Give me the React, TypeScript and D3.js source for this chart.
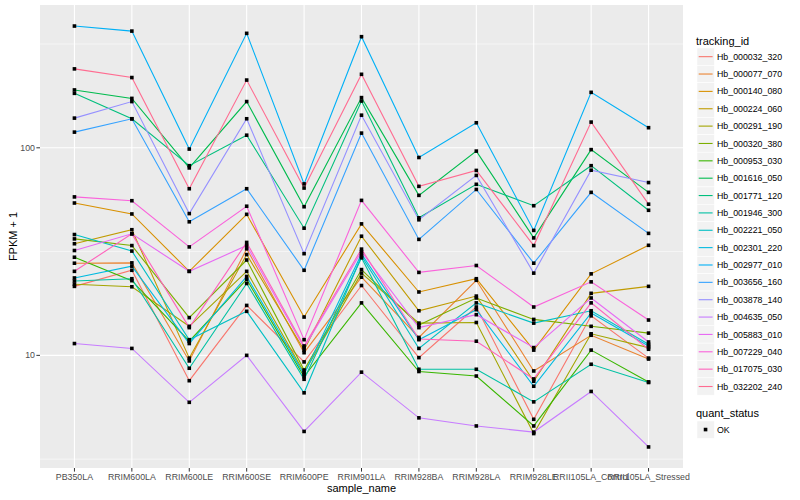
import * as d3 from "d3";

const categories = [
  "PB350LA", "RRIM600LA", "RRIM600LE", "RRIM600SE", "RRIM600PE", "RRIM901LA",
  "RRIM928BA", "RRIM928LA", "RRIM928LE", "RRII105LA_Control", "RRII105LA_Stressed",
];

const trackingIds = [
  "Hb_000032_320", "Hb_000077_070", "Hb_000140_080", "Hb_000224_060", "Hb_000291_190",
  "Hb_000320_380", "Hb_000953_030", "Hb_001616_050", "Hb_001771_120", "Hb_001946_300",
  "Hb_002221_050", "Hb_002301_220", "Hb_002977_010", "Hb_003656_160", "Hb_003878_140",
  "Hb_004635_050", "Hb_005883_010", "Hb_007229_040", "Hb_017075_030", "Hb_032202_240",
];

// ggplot hue_pal()(20)
const hueColors = [
  "#F8766D", "#EA8331", "#D89000", "#C09B00", "#A3A500", "#7CAE00", "#39B600", "#00BB4E",
  "#00BF7D", "#00C1A3", "#00BFC4", "#00BAE0", "#00B0F6", "#35A2FF", "#9590FF", "#C77CFF",
  "#E76BF3", "#FA62DB", "#FF62BC", "#FF6C91",
];

// FPKM + 1, one value per sample
const hb000032 = [21.5, 25.7, 7.55, 17.4, 9.3, 21.7, 9.75, 17.1, 4.92, 15.5, 9.7];
const hb000077 = [27.8, 27.9, 9.4, 32.6, 10.3, 23.8, 12.2, 23.0, 8.41, 12.5, 9.6];
const hb000140 = [54.2, 48, 25.4, 47.8, 15.3, 43, 20.2, 23.4, 10.6, 24.7, 33.9];
const hb000224 = [34.5, 40.3, 9.7, 30.6, 10.6, 37.5, 16.4, 19.3, 7.5, 19.9, 21.5];
const hb000291 = [22, 21.4, 13.8, 25.4, 8.26, 24.9, 14.3, 14.4, 4.2, 12.7, 10.9];
const hb000320 = [36.4, 33.8, 15.2, 28.8, 8.5, 25.9, 14.0, 18.9, 14.9, 13.8, 12.8];
const hb000953 = [29.7, 22.9, 11.7, 23.2, 7.9, 17.9, 8.36, 7.95, 4.57, 10.6, 7.45];
const hb001616 = [190, 173, 80, 167, 52, 174.5, 59, 96.4, 36.8, 98, 61];
const hb001771 = [183, 138, 82, 115, 41, 168, 46, 66.7, 52.6, 82, 50];
const hb001946 = [22.8, 23.4, 8.67, 22.2, 7.67, 29.5, 8.57, 8.57, 5.97, 9.06, 7.4];
const hb002221 = [38.2, 31.8, 11.9, 16.3, 6.6, 30.1, 10.8, 17.9, 14.3, 16.4, 11.3];
const hb002301 = [23.6, 26.9, 11.4, 24, 8.1, 30.8, 11.9, 16.6, 7.1, 16.0, 11.1];
const hb002977 = [386, 365, 98.6, 356, 67, 343, 89.8, 132, 40, 185, 125];
const hb003656 = [119, 138, 44, 63.5, 25.7, 117.7, 36.2, 63, 27.8, 61, 38.7];
const hb003878 = [139, 167, 48.2, 138, 30.9, 143.6, 45, 73.6, 24.9, 78, 68];
const hb004635 = [11.4, 10.8, 5.94, 10, 4.3, 8.3, 5.0, 4.57, 4.27, 6.7, 3.62];
const hb005883 = [32, 38.5, 25.4, 33.8, 10.9, 31.6, 13.6, 15.7, 10.9, 18.9, 11.6];
const hb007229 = [58, 55.6, 33.3, 52.3, 11.9, 55.8, 25.1, 27.1, 17.1, 22.6, 14.8];
const hb017075 = [25.4, 38.5, 13.6, 35, 11.1, 32.5, 12.0, 11.7, 7.7, 17.9, 10.7];
const hb032202 = [240, 218, 63.5, 212, 64, 226, 65.2, 77.8, 33.8, 133, 53.5];

const seriesValues = [
  hb000032, hb000077, hb000140, hb000224, hb000291, hb000320, hb000953, hb001616,
  hb001771, hb001946, hb002221, hb002301, hb002977, hb003656, hb003878, hb004635,
  hb005883, hb007229, hb017075, hb032202,
];

const yBreaks = [10, 100];
const yMinor = [Math.sqrt(10), Math.sqrt(10) * 10, Math.sqrt(10) * 100];

const W = 800;
const H = 500;
const panel = { left: 40, right: 683, top: 5, bottom: 468 };
const font = "'Liberation Sans', Arial, Helvetica, sans-serif";

export default function App() {
  const x = d3.scalePoint<string>().domain(categories).range([panel.left, panel.right]).padding(0.6);

  const all = seriesValues.flat();
  const [lo, hi] = d3.extent(all) as [number, number];
  const lLo = Math.log10(lo);
  const lHi = Math.log10(hi);
  const pad = (lHi - lLo) * 0.05;
  const y = d3
    .scaleLog()
    .domain([Math.pow(10, lLo - pad), Math.pow(10, lHi + pad)])
    .range([panel.bottom, panel.top]);

  const line = d3
    .line<number>()
    .x((_, i) => x(categories[i]) as number)
    .y((d) => y(d));

  const keyStep = 17.36;
  const keyTop = 56.7 - keyStep / 2;

  return (
    <svg
      width={W}
      height={H}
      style={{ position: "absolute", left: 0, top: 0, background: "#fff" }}
      fontFamily={font}
    >
      <rect
        x={panel.left}
        y={panel.top}
        width={panel.right - panel.left}
        height={panel.bottom - panel.top}
        fill="#EBEBEB"
      />
      {yMinor.map((v) => (
        <line key={"mn" + v} x1={panel.left} x2={panel.right} y1={y(v)} y2={y(v)} stroke="#fff" strokeWidth={0.55} />
      ))}
      {yBreaks.map((v) => (
        <line key={"mj" + v} x1={panel.left} x2={panel.right} y1={y(v)} y2={y(v)} stroke="#fff" strokeWidth={1.1} />
      ))}
      {categories.map((c) => (
        <line key={"vg" + c} x1={x(c)} x2={x(c)} y1={panel.top} y2={panel.bottom} stroke="#fff" strokeWidth={1.1} />
      ))}

      {seriesValues.map((vals, i) => (
        <path key={"l" + i} d={line(vals) || ""} fill="none" stroke={hueColors[i]} strokeWidth={1.1} />
      ))}
      {seriesValues.map((vals, i) =>
        vals.map((v, j) => (
          <rect
            key={"p" + i + "-" + j}
            x={(x(categories[j]) as number) - 1.8}
            y={y(v) - 1.8}
            width={3.6}
            height={3.6}
            fill="#000"
          />
        ))
      )}

      {/* y axis */}
      {yBreaks.map((v) => (
        <g key={"yt" + v}>
          <line x1={panel.left - 3.6} x2={panel.left} y1={y(v)} y2={y(v)} stroke="#333" strokeWidth={1} />
          <text x={panel.left - 5} y={y(v)} dy="0.35em" textAnchor="end" fontSize={8.8} fill="#4D4D4D">
            {v}
          </text>
        </g>
      ))}
      {/* x axis */}
      {categories.map((c) => (
        <g key={"xt" + c}>
          <line x1={x(c)} x2={x(c)} y1={panel.bottom} y2={panel.bottom + 3.6} stroke="#333" strokeWidth={1} />
          <text x={x(c)} y={panel.bottom + 12} textAnchor="middle" fontSize={8.8} fill="#4D4D4D">
            {c}
          </text>
        </g>
      ))}
      <text x={(panel.left + panel.right) / 2} y={492} textAnchor="middle" fontSize={11} fill="#000">
        sample_name
      </text>
      <text
        transform={`translate(17,${(panel.top + panel.bottom) / 2}) rotate(-90)`}
        textAnchor="middle"
        fontSize={11}
        fill="#000"
      >
        FPKM + 1
      </text>

      {/* legend: tracking_id */}
      <text x={696} y={45} fontSize={11} fill="#000">
        tracking_id
      </text>
      {trackingIds.map((id, i) => {
        const ky = keyTop + i * keyStep;
        return (
          <g key={"lg" + id}>
            <rect x={697} y={ky} width={17.3} height={17.3} fill="#F2F2F2" stroke="#fff" strokeWidth={0.5} />
            <line x1={698.7} x2={712.6} y1={ky + 8.65} y2={ky + 8.65} stroke={hueColors[i]} strokeWidth={1.1} />
            <text x={717} y={ky + 8.65} dy="0.35em" fontSize={8.8} fill="#000">
              {id}
            </text>
          </g>
        );
      })}

      {/* legend: quant_status */}
      <text x={696} y={417} fontSize={11} fill="#000">
        quant_status
      </text>
      <rect x={697} y={421} width={17.3} height={17.3} fill="#F2F2F2" stroke="#fff" strokeWidth={0.5} />
      <rect x={703.75} y={427.75} width={3.6} height={3.6} fill="#000" />
      <text x={717} y={429.65} dy="0.35em" fontSize={8.8} fill="#000">
        OK
      </text>
    </svg>
  );
}
